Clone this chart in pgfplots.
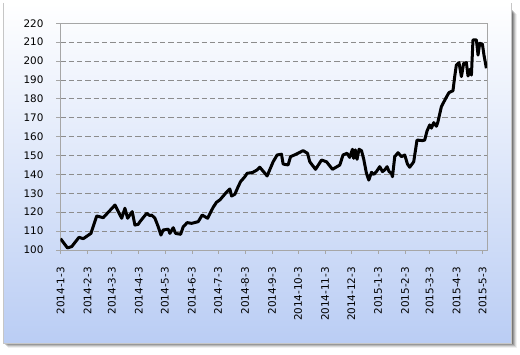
\documentclass[border=0pt]{standalone}
\usepackage{fontspec}
\setmainfont{DejaVu Sans}
\usepackage{pgfplots}
\pgfplotsset{compat=1.18}
\definecolor{bgbot}{RGB}{186,205,244}
\definecolor{gridc}{RGB}{140,140,140}
\definecolor{axc}{RGB}{166,166,166}
\begin{document}
\begin{tikzpicture}
\begin{scope}[x=1pt,y=1pt]
\useasboundingbox (0,0) rectangle (520,355);
\foreach \i/\o in {1/0.22,2/0.18,3/0.14,4/0.1,5/0.06} {
  \fill[black,opacity=\o] ({3+\i},{12-\i}) rectangle ({511.7+\i},{346-\i});
}
\shade[top color=white,bottom color=bgbot] (3,12) rectangle (511.7,352);
\draw[gray!45,line width=0.8pt] (3,352) -- (3,12) -- (511.7,12) -- (511.7,352);
\end{scope}
\begin{axis}[
  at={(60.5pt,105pt)}, anchor=south west,
  scale only axis, width=426.5pt, height=226.7pt,
  xmin=0, xmax=490, ymin=100, ymax=220,
  axis line style={draw=axc, line width=0.8pt},
  ymajorgrids,
  major grid style={draw=gridc, dash pattern=on 5.3pt off 3pt, line width=0.8pt},
  xtick pos=bottom, ytick pos=left,
  tick align=outside, major tick length=4pt,
  tick style={draw=axc, line width=0.8pt},
  ytick={100,110,...,220},
  xtick={0,31,59,90,120,151,181,212,243,273,304,334,365,396,424,455,485},
  xticklabels={2014-1-3,2014-2-3,2014-3-3,2014-4-3,2014-5-3,2014-6-3,2014-7-3,2014-8-3,2014-9-3,2014-10-3,2014-11-3,2014-12-3,2015-1-3,2015-2-3,2015-3-3,2015-4-3,2015-5-3},
  x tick label style={rotate=90, anchor=east},
  xticklabel shift=9.5pt, yticklabel shift=9.5pt,
  tick label style={font=\fontsize{10.4}{12}\selectfont, text=black},
  /pgf/number format/assume math mode=true,
]
\addplot[black, line width=3pt, line join=round, mark=none] table {
x y
0 106
8 101.1
12.9 101.8
21.2 106.7
26.2 106
35 108.8
41.6 118
49.1 117.1
62.6 123.8
70.3 116.8
74 122.1
77.1 116.8
82.4 120.3
85.5 113.2
89.3 113.6
91.3 115
99 119.4
102.7 118.2
104.7 118.5
108.5 116.8
112.3 112.3
115.4 107.9
118 110.6
123.8 111
125.7 108.8
129.5 111.8
132.2 108.8
138 108.3
141 112.3
145.6 114.5
150.6 114.1
158.2 115
162.8 118.5
169 116.8
175.4 122.6
179.3 125.3
183.1 126.5
189.6 130
194.6 132.3
196.5 128.6
200.3 129.5
204.1 133.5
206.9 136.2
211.8 138.8
214.4 140.6
220.6 141
225.9 142.4
229 143.8
237.4 139.2
244.3 146.7
248.9 150.3
253.9 150.7
255.8 145.5
261.5 145
264.3 149.4
271.2 150.8
278.7 152.6
283.8 151.2
286.4 146.7
293 142.7
299.9 147.6
305.6 146.7
312.5 142.7
320.9 145
324.6 150.3
329.2 151.2
332.3 149
335.4 153.3
336.9 148.5
338.7 153
340.7 148
343 153.3
345.8 152.6
348.4 148
351.5 140.6
354.2 137
357.3 141.1
359.9 140
363 141.5
366.8 144.1
369.9 141.5
372.5 142.4
375.2 144.1
377.5 141.5
380.2 140.6
381.4 138.8
384 149.4
387.8 151.5
391.7 149.4
395.5 150.3
398.6 145.5
401.2 143.8
405.8 146.7
409.6 158.2
415.8 157.9
418.4 158.2
421.1 163
424.2 166.2
426.1 164.5
428.8 167.4
431.9 165.5
433.7 168
437.6 175.9
442.6 180.3
446.3 183.3
450.9 184.3
452.9 191.8
454.8 197.9
457.8 199.2
460.6 191.8
463.2 198.8
466.3 199.2
468.2 192.1
470.1 195.5
472.1 192.6
473.9 211.2
477.8 211.2
479.7 203.2
481.6 209.4
484.7 209
486.5 203.2
489.3 196.2
};
\end{axis}
\end{tikzpicture}
\end{document}
